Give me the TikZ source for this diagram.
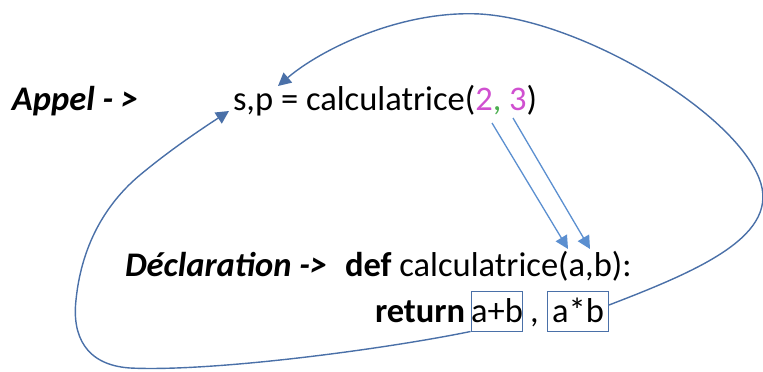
\documentclass[tikz,border=0pt]{standalone}
\usepackage{fontspec}
\setmainfont{Carlito}
\usetikzlibrary{arrows.meta}
\definecolor{loopblue}{HTML}{4A70A8}
\definecolor{parblue}{HTML}{5B8FD0}
\definecolor{magnum}{HTML}{D050D0}
\definecolor{commagreen}{HTML}{4CAF50}
\tikzset{
  txt/.style={inner sep=0pt, outer sep=0pt, anchor=base west, font=\fontsize{34.5}{40}\selectfont},
  boxed/.style={draw=loopblue, line width=1pt, inner sep=0pt, anchor=base, text height=31pt, text depth=9pt, minimum width=48pt, font=\fontsize{34.5}{40}\selectfont},
  looparr/.style={draw=loopblue, line width=1.4pt, -{Triangle[length=13pt,width=13pt]}},
  pararr/.style={draw=parblue, line width=1.3pt, -{Triangle[length=13pt,width=13pt]}}
}
\begin{document}
\begin{tikzpicture}[x=1pt,y=-1pt]
\useasboundingbox (0,0) rectangle (763,372);
\node[txt] (appel) at (12,110) {\textbf{\textit{Appel - >}}};
\node[txt] (call) at (233,110) {s,p = calculatrice(\textcolor{magnum}{2}\textcolor{commagreen}{,} \textcolor{magnum}{3})};
\node[txt] (decl) at (125,276) {\textbf{\textit{Déclaration ->}}};
\node[txt] (def) at (345,276) {\textbf{def} calculatrice(a,b):};
\node[txt] (ret) at (375,322) {\textbf{return}};
\node[boxed] (ab) at (497,322) {a+b};
\node[txt] (comma) at (530,322) {,};
\node[boxed, minimum width=61pt] (axb) at (578,322) {a*b};
% parameter arrows
\coordinate (p1s) at (492,123);
\coordinate (p1e) at (568,249);
\coordinate (p2s) at (513,118);
\coordinate (p2e) at (590,249);
\draw[pararr] (p1s) -- (p1e);
\draw[pararr] (p2s) -- (p2e);
% return loops
\coordinate (tipA) at (229,111);
\coordinate (tipB) at (278,86);
\draw[looparr] (ab.south west) .. controls (380,350) and (210,372) .. (130,368)
   .. controls (85,365) and (72,335) .. (76,300)
   .. controls (82,240) and (110,200) .. (140,175)
   .. controls (170,150) and (200,130) .. (tipA);
\draw[looparr] ([yshift=6pt]axb.east) .. controls (700,270) and (782,235) .. (759,178)
   .. controls (732,110) and (580,20) .. (480,14)
   .. controls (400,10) and (320,50) .. (tipB);
\end{tikzpicture}
\end{document}
